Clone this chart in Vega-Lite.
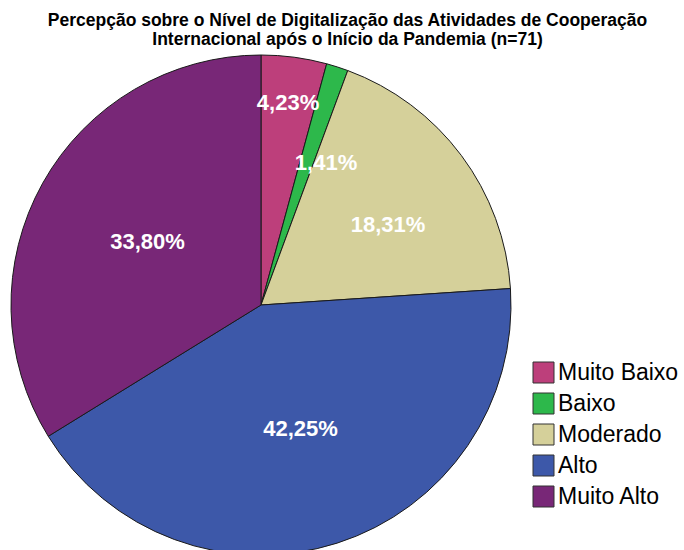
{
  "$schema": "https://vega.github.io/schema/vega-lite/v6.json",
  "autosize": {"type": "none"},
  "width": 522,
  "height": 510,
  "padding": {"left": 0, "top": 50, "right": 162, "bottom": -10},
  "background": "white",
  "title": {
    "text": ["Percepção sobre o Nível de Digitalização das Atividades de Cooperação", "Internacional após o Início da Pandemia (n=71)"],
    "font": "Liberation Sans",
    "fontSize": 17.5,
    "fontWeight": "bold",
    "color": "#000000",
    "frame": "bounds",
    "anchor": "middle",
    "dx": 8,
    "offset": 2,
    "lineHeight": 19
  },
  "data": {
    "values": [
      {"nivel": "Muito Baixo", "pct": 4.23, "label": "4,23%", "ord": 1},
      {"nivel": "Baixo", "pct": 1.41, "label": "1,41%", "ord": 2},
      {"nivel": "Moderado", "pct": 18.31, "label": "18,31%", "ord": 3},
      {"nivel": "Alto", "pct": 42.25, "label": "42,25%", "ord": 4},
      {"nivel": "Muito Alto", "pct": 33.80, "label": "33,80%", "ord": 5}
    ]
  },
  "encoding": {
    "theta": {"field": "pct", "type": "quantitative", "stack": true},
    "order": {"field": "ord", "type": "quantitative"}
  },
  "layer": [
    {
      "mark": {"type": "arc", "outerRadius": 250, "stroke": "#1a1a1a", "strokeWidth": 1},
      "encoding": {
        "color": {
          "field": "nivel",
          "type": "nominal",
          "sort": ["Muito Baixo", "Baixo", "Moderado", "Alto", "Muito Alto"],
          "scale": {
            "domain": ["Muito Baixo", "Baixo", "Moderado", "Alto", "Muito Alto"],
            "range": ["#bd3f7b", "#2db84b", "#d5d09a", "#3d58a9", "#782777"]
          },
          "legend": {
            "title": null,
            "orient": "none",
            "legendX": 532,
            "legendY": 311,
            "symbolType": "square",
            "symbolSize": 441,
            "symbolStrokeColor": "#333333",
            "symbolStrokeWidth": 1,
            "symbolOpacity": 1,
            "labelFont": "Liberation Sans",
            "labelFontSize": 23,
            "labelColor": "#000000",
            "labelOffset": 3,
            "rowPadding": 6
          }
        }
      }
    },
    {
      "mark": {"type": "text", "radius": 204, "font": "Liberation Sans", "fontSize": 22, "fontWeight": "bold", "fill": "white"},
      "encoding": {"text": {"condition": {"test": "datum.nivel === 'Muito Baixo'", "field": "label"}, "value": ""}}
    },
    {
      "mark": {"type": "text", "radius": 156, "thetaOffset": 0.12, "font": "Liberation Sans", "fontSize": 22, "fontWeight": "bold", "fill": "white"},
      "encoding": {"text": {"condition": {"test": "datum.nivel === 'Baixo'", "field": "label"}, "value": ""}}
    },
    {
      "mark": {"type": "text", "radius": 150, "thetaOffset": 0.08, "font": "Liberation Sans", "fontSize": 22, "fontWeight": "bold", "fill": "white"},
      "encoding": {"text": {"condition": {"test": "datum.nivel === 'Moderado'", "field": "label"}, "value": ""}}
    },
    {
      "mark": {"type": "text", "radius": 130, "font": "Liberation Sans", "fontSize": 22, "fontWeight": "bold", "fill": "white"},
      "encoding": {"text": {"condition": {"test": "datum.nivel === 'Alto' || datum.nivel === 'Muito Alto'", "field": "label"}, "value": ""}}
    }
  ],
  "config": {"view": {"stroke": null}}
}
